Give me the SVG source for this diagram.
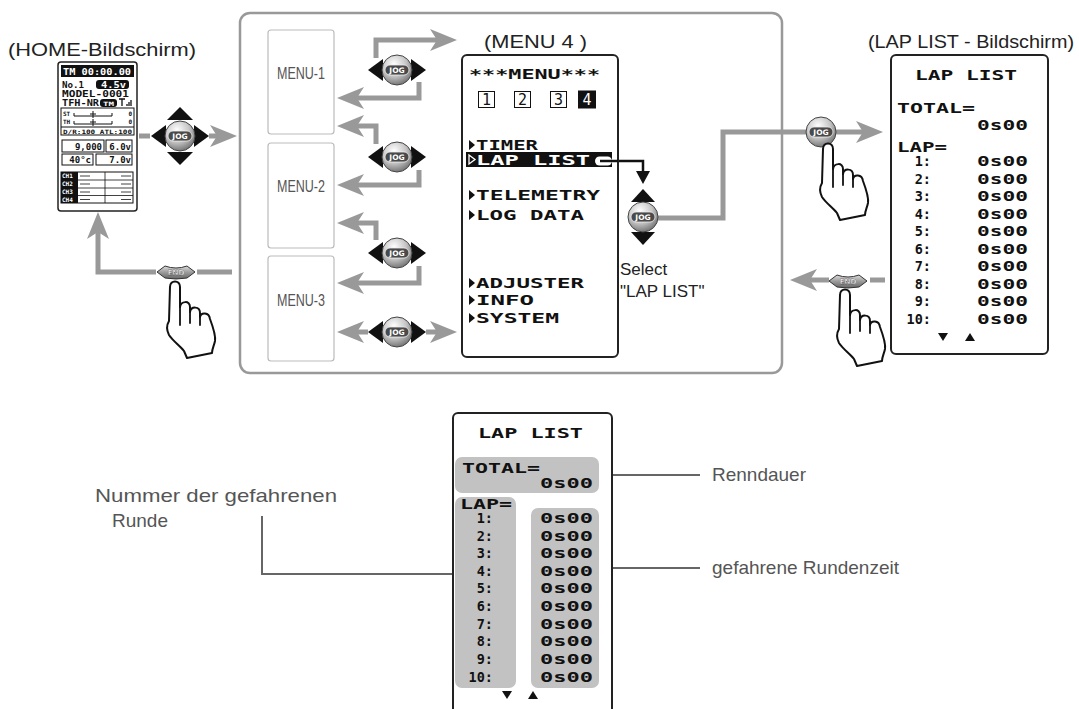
<svg xmlns="http://www.w3.org/2000/svg" width="1079" height="709" viewBox="0 0 1079 709">
<style>
  .sans{font-family:"Liberation Sans",Arial,sans-serif}
  .title{font-size:19px;fill:#222}
  .menu{font-size:16px;fill:#555}
  .note{font-size:19px;fill:#555}
  .lcd{font-family:"DejaVu Sans Mono","Liberation Mono",monospace;font-weight:bold;font-size:14px;fill:#111}
  .sm{font-size:9px}
  .xs{font-size:6px}
  .row{font-size:13.5px}
  .w{fill:#fff}
  .flow{fill:none;stroke:#999;stroke-width:5;marker-end:url(#ah)}
  .seg{fill:none;stroke:#999;stroke-width:5}
  .lead{fill:none;stroke:#666;stroke-width:2}
  .hand{fill:#fff;stroke:#111;stroke-width:2;stroke-linejoin:round;stroke-linecap:round}
  .fl{fill:none;stroke:#111;stroke-width:1.8;stroke-linecap:round}
  .tri{fill:#111}
  .mbox{fill:#fff;stroke:#bbb;stroke-width:1.2}
  .scr{fill:#fff;stroke:#222;stroke-width:2}
  .thin{fill:none;stroke:#111;stroke-width:1}
  .hl{fill:#c2c2c2}
</style>
<defs>
  <marker id="ah" markerUnits="userSpaceOnUse" markerWidth="28" markerHeight="22" refX="10" refY="11" orient="auto">
    <path d="M0,0 L27,11 L0,22 L7,11 Z" fill="#999"/>
  </marker>
  <radialGradient id="jg" cx="0.4" cy="0.3" r="0.8">
    <stop offset="0" stop-color="#ffffff"/>
    <stop offset="0.5" stop-color="#c6c6c6"/>
    <stop offset="1" stop-color="#5e5e5e"/>
  </radialGradient>
  <linearGradient id="eg" x1="0" y1="0" x2="0" y2="1">
    <stop offset="0" stop-color="#dcdcdc"/>
    <stop offset="0.5" stop-color="#9a9a9a"/>
    <stop offset="1" stop-color="#666"/>
  </linearGradient>
  <!-- jog dial knob -->
  <g id="jog">
    <circle r="15" fill="url(#jg)" stroke="#444" stroke-width="1"/>
    <rect x="-12" y="-5" width="24" height="10" rx="5" fill="#4a4a4a" stroke="#eee" stroke-width="0.8"/>
    <text y="3" text-anchor="middle" font-family="DejaVu Sans,sans-serif" font-weight="bold" font-size="7.5" fill="#fff">JOG</text>
  </g>
  <g id="jogLR">
    <polygon class="tri" points="-29,0 -14,-11 -14,11"/>
    <polygon class="tri" points="29,0 14,-11 14,11"/>
    <use href="#jog"/>
  </g>
  <g id="jogUD">
    <polygon class="tri" points="0,-28 -12,-15 12,-15"/>
    <polygon class="tri" points="0,28 -12,15 12,15"/>
    <use href="#jog"/>
  </g>
  <!-- END key -->
  <g id="endKey">
    <path d="M-19,0 L-11,-6 Q0,-2 11,-6 L19,0 L11,6 Q0,8 -11,6 Z" fill="url(#eg)" stroke="#333" stroke-width="1"/>
    <text y="2.6" text-anchor="middle" font-family="DejaVu Sans,sans-serif" font-weight="bold" font-size="7" fill="#fff" stroke="#333" stroke-width="0.3">END</text>
  </g>
  <!-- pressing hand, fingertip at origin -->
  <g id="hand">
    <path class="hand" d="M-5,6 C-5,-1.5 5,-1.5 5,6 L5,26 C6,20 15,19 15,26 L15,31 C16,25 25,25 25,32 L25,36 C26,31 34,31 35,38 C38,46 41,54 40,60 C39,65 37,68 37,72 L12,77 L9,70 C5,65 -2,60 -6,54 C-8,50 -9,45 -6,40 Z"/>
    <path class="fl" d="M5,26 L5,44 M15,31 L15,42 M25,36 L25,44"/>
  </g>
</defs>

<rect width="1079" height="709" fill="#fff"/>

<!-- titles -->
<g id="titles" class="sans title">
  <text x="8" y="56" textLength="188" lengthAdjust="spacingAndGlyphs">(HOME-Bildschirm)</text>
  <text x="484" y="48" textLength="103" lengthAdjust="spacingAndGlyphs">(MENU 4 )</text>
  <text x="868" y="48" textLength="206" lengthAdjust="spacingAndGlyphs">(LAP LIST - Bildschirm)</text>
</g>

<!-- menu frame -->
<g id="frame">
  <rect x="240" y="13" width="542" height="360" rx="10" fill="none" stroke="#999" stroke-width="2.5"/>
</g>

<!-- connectors -->
<g id="connectors">
  <path class="seg" d="M139,136 L150,136"/>
  <path class="flow" d="M209,136 L220,136"/>
  <path class="flow" d="M376,58 L376,40 L440,40"/>
  <path class="flow" d="M419,82 L419,98 L354,98"/>
  <path class="flow" d="M376,144 L376,126 L354,126"/>
  <path class="flow" d="M419,170 L419,185 L354,185"/>
  <path class="flow" d="M376,240 L376,223 L354,223"/>
  <path class="flow" d="M419,266 L419,283 L354,283"/>
  <path class="flow" d="M368,332 L354,332"/>
  <path class="flow" d="M426,332 L440,332"/>
  <path class="seg" d="M658,218 L723,218 L723,132 L806,132"/>
  <path class="flow" d="M836,132 L866,132"/>
  <path class="seg" d="M885,280 L870,280"/>
  <path class="flow" d="M829,280 L807,280"/>
  <path class="seg" d="M232,272 L197,272"/>
  <path class="flow" d="M156,272 L98,272 L98,229"/>
  <!-- selection pointer inside MENU 4 -->
  <path d="M600,161 L643,161 L643,173" fill="none" stroke="#111" stroke-width="2.5"/>
  <polygon class="tri" points="636,171 650,171 643,184"/>
  <!-- leader lines -->
  <path class="lead" d="M600,475 L700,475"/>
  <path class="lead" d="M599,568 L700,568"/>
  <path class="lead" d="M262,516 L262,574 L455,574"/>
</g>

<!-- HOME screen -->
<g id="home">
  <rect x="58" y="62" width="79" height="149" rx="3" fill="#fff" stroke="#222" stroke-width="1.5"/>
  <rect x="61" y="65" width="73" height="12" fill="#111"/>
  <text class="lcd sm w" x="63" y="75" textLength="68" lengthAdjust="spacingAndGlyphs">TM 00:00.00</text>
  <text class="lcd sm" x="62" y="88" textLength="22" lengthAdjust="spacingAndGlyphs">No.1</text>
  <rect x="96" y="80" width="33" height="9" rx="3" fill="#111"/>
  <text class="lcd sm w" x="101" y="88" textLength="25" lengthAdjust="spacingAndGlyphs">4.5v</text>
  <text class="lcd sm" x="62" y="97" textLength="67" lengthAdjust="spacingAndGlyphs">MODEL-0001</text>
  <text class="lcd sm" x="62" y="106" textLength="37" lengthAdjust="spacingAndGlyphs">TFH-NR</text>
  <rect x="100" y="99" width="17" height="8" rx="3" fill="#111"/>
  <text class="lcd xs w" x="103" y="105.5" textLength="11" lengthAdjust="spacingAndGlyphs">TM</text>
  <path d="M119,99 L125,99 M122,99 L122,106 M127,104 L127,106 M129,102 L129,106 M131,100 L131,106" fill="none" stroke="#111" stroke-width="1.3"/>
  <rect x="61" y="108" width="73" height="27" class="thin"/>
  <line x1="61" y1="127" x2="134" y2="127" stroke="#111" stroke-width="1"/>
  <text class="lcd xs" x="63" y="116">ST</text>
  <text class="lcd xs" x="63" y="124">TH</text>
  <path d="M74,116 L112,116 M74,113 L74,116 M112,113 L112,116 M93,111 L93,118 M90,114 L96,114" fill="none" stroke="#111" stroke-width="1"/>
  <path d="M74,124 L112,124 M74,121 L74,124 M112,121 L112,124 M93,119 L93,126 M90,122 L96,122" fill="none" stroke="#111" stroke-width="1"/>
  <text class="lcd xs" x="132" y="116" text-anchor="end">0</text>
  <text class="lcd xs" x="132" y="124" text-anchor="end">0</text>
  <text class="lcd xs" x="63" y="133.5" textLength="69" lengthAdjust="spacingAndGlyphs">D/R:100 ATL:100</text>
  <rect x="62" y="140" width="42" height="12" class="thin"/>
  <rect x="106" y="140" width="26" height="12" class="thin"/>
  <text class="lcd sm" x="102" y="150" text-anchor="end">9,000</text>
  <text class="lcd sm" x="131" y="150" text-anchor="end">6.0v</text>
  <rect x="62" y="154" width="31" height="11" class="thin"/>
  <rect x="96" y="154" width="36" height="11" class="thin"/>
  <text class="lcd sm" x="91" y="163" text-anchor="end">40°c</text>
  <text class="lcd sm" x="131" y="163" text-anchor="end">7.0v</text>
  <g id="channels">
    <rect x="61" y="172" width="72" height="31" class="thin"/>
    <rect x="61" y="172" width="17" height="31" fill="#111"/>
    <text class="lcd xs w" x="62" y="178">CH1</text>
    <text class="lcd xs w" x="62" y="186">CH2</text>
    <text class="lcd xs w" x="62" y="194">CH3</text>
    <text class="lcd xs w" x="62" y="202">CH4</text>
    <path d="M78,180 L133,180 M78,188 L133,188 M78,195.5 L133,195.5 M105,172 L105,203" stroke="#111" stroke-width="0.8" fill="none"/>
    <path d="M80,176 L90,176 M121,176 L131,176 M80,184 L90,184 M121,184 L131,184 M80,192 L90,192 M121,192 L131,192 M80,199.5 L90,199.5 M121,199.5 L131,199.5" stroke="#111" stroke-width="0.8" fill="none"/>
  </g>
</g>

<!-- jog dials -->
<g id="jog-home"><use href="#jogLR" transform="translate(180,136)"/><polygon class="tri" points="180,107 167,120 193,120"/><polygon class="tri" points="180,165 167,152 193,152"/></g>
<g id="jog-1"><use href="#jogLR" transform="translate(397,70)"/></g>
<g id="jog-2"><use href="#jogLR" transform="translate(397,157)"/></g>
<g id="jog-3"><use href="#jogLR" transform="translate(397,253)"/></g>
<g id="jog-4"><use href="#jogLR" transform="translate(397,332)"/></g>
<g id="jog-select"><use href="#jogUD" transform="translate(643,217)"/></g>
<g id="jog-press"><use href="#jog" transform="translate(821,132)"/><use href="#hand" transform="translate(828,143)"/></g>

<!-- END keys -->
<g id="end-left"><use href="#endKey" transform="translate(176,272)"/><use href="#hand" transform="translate(175,281)"/></g>
<g id="end-right"><use href="#endKey" transform="translate(848,281)"/><use href="#hand" transform="translate(845,289)"/></g>

<!-- MENU boxes -->
<g id="menu-1"><rect class="mbox" x="268" y="30" width="66" height="104" rx="3"/><text class="sans menu" x="277" y="79" textLength="48" lengthAdjust="spacingAndGlyphs">MENU-1</text></g>
<g id="menu-2"><rect class="mbox" x="268" y="143" width="66" height="105" rx="3"/><text class="sans menu" x="277" y="192" textLength="48" lengthAdjust="spacingAndGlyphs">MENU-2</text></g>
<g id="menu-3"><rect class="mbox" x="268" y="256" width="66" height="105" rx="3"/><text class="sans menu" x="277" y="306" textLength="48" lengthAdjust="spacingAndGlyphs">MENU-3</text></g>

<!-- MENU 4 screen -->
<g id="menu-4">
  <rect class="scr" x="462" y="55" width="156" height="302" rx="5"/>
  <text class="lcd" x="469" y="79" textLength="131" lengthAdjust="spacingAndGlyphs">***MENU***</text>
  <rect x="478.5" y="91.5" width="16" height="16" class="thin" stroke-width="2"/>
  <rect x="514.5" y="91.5" width="16" height="16" class="thin" stroke-width="2"/>
  <rect x="550.5" y="91.5" width="16" height="16" class="thin" stroke-width="2"/>
  <rect x="578" y="90.5" width="18" height="18" fill="#111"/>
  <g font-family="DejaVu Sans Mono,monospace" font-size="15" text-anchor="middle">
    <text x="486.5" y="105" fill="#111">1</text>
    <text x="522.5" y="105" fill="#111">2</text>
    <text x="558.5" y="105" fill="#111">3</text>
    <text x="587" y="105" fill="#fff">4</text>
  </g>
  <polygon class="tri" points="469,140 475,145 469,150"/>
  <text class="lcd" x="476" y="150" textLength="62" lengthAdjust="spacingAndGlyphs">TIMER</text>
  <rect x="466" y="152" width="146" height="15" fill="#111"/>
  <polygon points="469,155 475,159.5 469,164" fill="none" stroke="#fff" stroke-width="1.3"/>
  <text class="lcd w" x="476" y="165" textLength="114" lengthAdjust="spacingAndGlyphs">LAP LIST</text>
  <rect x="595" y="156.5" width="17" height="9" rx="4.5" fill="#fff"/>
  <line x1="600" y1="161" x2="618" y2="161" stroke="#111" stroke-width="2.5"/>
  <polygon class="tri" points="469,190 475,195 469,200"/>
  <text class="lcd" x="476" y="200" textLength="124" lengthAdjust="spacingAndGlyphs">TELEMETRY</text>
  <polygon class="tri" points="469,210 475,215 469,220"/>
  <text class="lcd" x="476" y="220" textLength="108" lengthAdjust="spacingAndGlyphs">LOG DATA</text>
  <polygon class="tri" points="469,278 475,283 469,288"/>
  <text class="lcd" x="476" y="288" textLength="108" lengthAdjust="spacingAndGlyphs">ADJUSTER</text>
  <polygon class="tri" points="469,295 475,300 469,305"/>
  <text class="lcd" x="476" y="305" textLength="58" lengthAdjust="spacingAndGlyphs">INFO</text>
  <polygon class="tri" points="469,313 475,318 469,323"/>
  <text class="lcd" x="476" y="323" textLength="83" lengthAdjust="spacingAndGlyphs">SYSTEM</text>
</g>

<g id="select-label" class="sans" font-size="17" fill="#222">
  <text x="620" y="275">Select</text>
  <text x="620" y="297">"LAP LIST"</text>
</g>

<!-- LAP LIST screen (upper right) -->
<g id="laplist-screen">
  <rect class="scr" x="891" y="55" width="157" height="299" rx="5"/>
  <text class="lcd" x="915" y="80" textLength="102" lengthAdjust="spacingAndGlyphs">LAP LIST</text>
  <text class="lcd" x="897" y="113" textLength="78" lengthAdjust="spacingAndGlyphs">TOTAL=</text>
  <text class="lcd row" x="977" y="130" textLength="51" lengthAdjust="spacingAndGlyphs">0s00</text>
  <text class="lcd" x="897" y="152" textLength="50" lengthAdjust="spacingAndGlyphs">LAP=</text>
  <g class="lcd row" text-anchor="end">
    <text x="931" y="166">1:</text>
    <text x="931" y="183.5">2:</text>
    <text x="931" y="201">3:</text>
    <text x="931" y="218.5">4:</text>
    <text x="931" y="236">5:</text>
    <text x="931" y="253.5">6:</text>
    <text x="931" y="271">7:</text>
    <text x="931" y="288.5">8:</text>
    <text x="931" y="306">9:</text>
    <text x="931" y="323.5">10:</text>
  </g>
  <g class="lcd row">
    <text x="977" y="166" textLength="51" lengthAdjust="spacingAndGlyphs">0s00</text>
    <text x="977" y="183.5" textLength="51" lengthAdjust="spacingAndGlyphs">0s00</text>
    <text x="977" y="201" textLength="51" lengthAdjust="spacingAndGlyphs">0s00</text>
    <text x="977" y="218.5" textLength="51" lengthAdjust="spacingAndGlyphs">0s00</text>
    <text x="977" y="236" textLength="51" lengthAdjust="spacingAndGlyphs">0s00</text>
    <text x="977" y="253.5" textLength="51" lengthAdjust="spacingAndGlyphs">0s00</text>
    <text x="977" y="271" textLength="51" lengthAdjust="spacingAndGlyphs">0s00</text>
    <text x="977" y="288.5" textLength="51" lengthAdjust="spacingAndGlyphs">0s00</text>
    <text x="977" y="306" textLength="51" lengthAdjust="spacingAndGlyphs">0s00</text>
    <text x="977" y="323.5" textLength="51" lengthAdjust="spacingAndGlyphs">0s00</text>
  </g>
  <polygon class="tri" points="938,333 948,333 943,341"/>
  <polygon class="tri" points="965,341 975,341 970,333"/>
</g>

<!-- LAP LIST screen (explained) -->
<g id="laplist-detail">
  <rect class="scr" x="453" y="413" width="159" height="320" rx="5"/>
  <rect class="hl" x="455" y="457" width="144" height="36" rx="7"/>
  <rect class="hl" x="455" y="497" width="61" height="191" rx="7"/>
  <rect class="hl" x="531" y="508" width="68" height="180" rx="7"/>
  <text class="lcd" x="478" y="438" textLength="105" lengthAdjust="spacingAndGlyphs">LAP LIST</text>
  <text class="lcd" x="462" y="473" textLength="78" lengthAdjust="spacingAndGlyphs">TOTAL=</text>
  <text class="lcd row" x="540" y="488" textLength="53" lengthAdjust="spacingAndGlyphs">0s00</text>
  <text class="lcd" x="460" y="508.5" textLength="52" lengthAdjust="spacingAndGlyphs">LAP=</text>
  <g class="lcd row" text-anchor="end">
    <text x="493" y="523">1:</text>
    <text x="493" y="540.5">2:</text>
    <text x="493" y="558">3:</text>
    <text x="493" y="575.6">4:</text>
    <text x="493" y="593.3">5:</text>
    <text x="493" y="611">6:</text>
    <text x="493" y="628.7">7:</text>
    <text x="493" y="646.4">8:</text>
    <text x="493" y="664.1">9:</text>
    <text x="493" y="681.8">10:</text>
  </g>
  <g class="lcd row">
    <text x="540" y="523" textLength="53" lengthAdjust="spacingAndGlyphs">0s00</text>
    <text x="540" y="540.5" textLength="53" lengthAdjust="spacingAndGlyphs">0s00</text>
    <text x="540" y="558" textLength="53" lengthAdjust="spacingAndGlyphs">0s00</text>
    <text x="540" y="575.6" textLength="53" lengthAdjust="spacingAndGlyphs">0s00</text>
    <text x="540" y="593.3" textLength="53" lengthAdjust="spacingAndGlyphs">0s00</text>
    <text x="540" y="611" textLength="53" lengthAdjust="spacingAndGlyphs">0s00</text>
    <text x="540" y="628.7" textLength="53" lengthAdjust="spacingAndGlyphs">0s00</text>
    <text x="540" y="646.4" textLength="53" lengthAdjust="spacingAndGlyphs">0s00</text>
    <text x="540" y="664.1" textLength="53" lengthAdjust="spacingAndGlyphs">0s00</text>
    <text x="540" y="681.8" textLength="53" lengthAdjust="spacingAndGlyphs">0s00</text>
  </g>
  <polygon class="tri" points="502,691 512,691 507,699"/>
  <polygon class="tri" points="528,699 538,699 533,691"/>
</g>

<!-- annotations -->
<g id="notes" class="sans note">
  <text x="712" y="481">Renndauer</text>
  <text x="712" y="574">gefahrene Rundenzeit</text>
  <text x="95" y="502" textLength="242" lengthAdjust="spacingAndGlyphs">Nummer der gefahrenen</text>
  <text x="112" y="527">Runde</text>
</g>
</svg>
